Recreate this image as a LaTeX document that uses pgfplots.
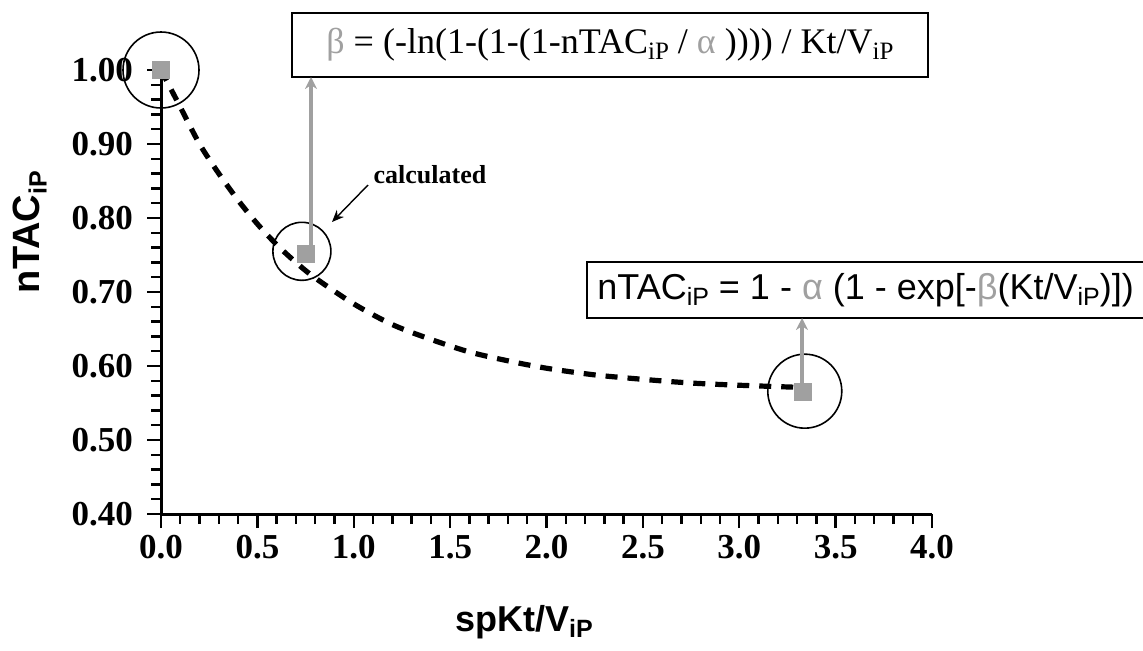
\documentclass[border=0pt]{standalone}
\usepackage{fontspec}
\setmainfont{Liberation Serif}
\newfontfamily\arial{Liberation Sans}
\usepackage{pgfplots}
\pgfplotsset{compat=1.18}
\usetikzlibrary{arrows.meta}
\definecolor{gr}{RGB}{160,160,160}
\newcommand\sub[1]{\raisebox{-0.35ex}{\fontsize{12.5}{13}\selectfont #1}}
\begin{document}
\begin{tikzpicture}
\useasboundingbox (-80.5pt,-68pt) rectangle (491pt,257pt);
\begin{axis}[at={(0pt,0pt)}, anchor=south west, scale only axis,
  width=385.5pt, height=222pt,
  xmin=0, xmax=4, ymin=0.4, ymax=1.0,
  axis lines=left, axis line style={line width=1.5pt, -},
  xtick={0,0.5,1,1.5,2,2.5,3,3.5,4},
  ytick={0.4,0.5,0.6,0.7,0.8,0.9,1.0},
  minor x tick num=4, minor y tick num=4,
  tick align=outside, major tick length=7pt, minor tick length=5pt,
  every tick/.style={black, line width=1.2pt},
  /pgf/number format/assume math mode=true,
  tick label style={font=\fontsize{17.5}{20}\selectfont\bfseries},
  xticklabel style={/pgf/number format/.cd, fixed, fixed zerofill, precision=1},
  yticklabel style={xshift=-3.5pt, /pgf/number format/.cd, fixed, fixed zerofill, precision=2},
  xlabel={\arial\bfseries spKt/V\sub{iP}},
  ylabel={\arial\bfseries nTAC\sub{iP}},
  every axis x label/.style={at={(axis description cs:0.4708,-0.243)}, anchor=center, font=\fontsize{18}{20}\selectfont},
  every axis y label/.style={at={(axis description cs:-0.170,0.635)}, anchor=center, rotate=90, font=\fontsize{19}{20}\selectfont},
  clip=false,
]
\addplot[black, line width=2.6pt, dash pattern=on 6pt off 5pt, smooth] coordinates {
(0,1.000) (0.1,0.950) (0.2,0.900) (0.3,0.860) (0.4,0.824) (0.5,0.792)
(0.6,0.764) (0.7,0.740) (0.8,0.719) (1.0,0.684) (1.2,0.656) (1.4,0.636)
(1.6,0.619) (1.8,0.607) (2.0,0.597) (2.25,0.588) (2.5,0.582) (2.75,0.577)
(3.0,0.574) (3.33,0.571)};
\addplot[only marks, mark=square*, mark size=4.2pt, mark options={fill=gr, draw=gr}]
  coordinates {(0,1.0) (0.75,0.752) (3.33,0.565)};
\addplot[only marks, mark=o, mark size=19pt, mark options={line width=0.8pt}] coordinates {(0,1.0)};
\addplot[only marks, mark=o, mark size=14.5pt, mark options={line width=0.8pt}] coordinates {(0.731,0.755)};
\addplot[only marks, mark=o, mark size=18.5pt, mark options={line width=0.8pt}] coordinates {(3.34,0.566)};
\end{axis}
% box 1
\draw[line width=0.9pt] (65.5pt,218.5pt) rectangle (383.5pt,250.5pt);
\node[font=\fontsize{18}{20}\selectfont, inner sep=0pt] at (224.5pt,234.5pt)
  {{\color{gr}β} = (-ln(1-(1-(1-nTAC\sub{iP} / {\color{gr}α} )))) / Kt/V\sub{iP}};
% box 2
\draw[line width=0.9pt] (500pt,126pt) -- (213pt,126pt) -- (213pt,98pt) -- (500pt,98pt);
\node[font=\arial\fontsize{18}{20}\selectfont, inner sep=0pt, anchor=west] at (218pt,112pt)
  {nTAC\sub{iP} = 1 - {\color{gr}α} (1 - exp[-{\color{gr}β}(Kt/V\sub{iP})])};
% gray arrows
\draw[gr, line width=2pt, -{Stealth[length=6pt,width=6pt]}] (75pt,134.5pt) -- (75pt,218.5pt);
\draw[gr, line width=2pt, -{Stealth[length=6pt,width=6pt]}] (320.5pt,65.5pt) -- (320.5pt,98pt);
% calculated
\node[font=\fontsize{13}{15}\selectfont\bfseries] at (134.5pt,169.5pt) {calculated};
\draw[line width=0.7pt, -{Stealth[length=6pt,width=5pt]}] (103.5pt,164.5pt) -- (85.5pt,146pt);
\end{tikzpicture}
\end{document}
